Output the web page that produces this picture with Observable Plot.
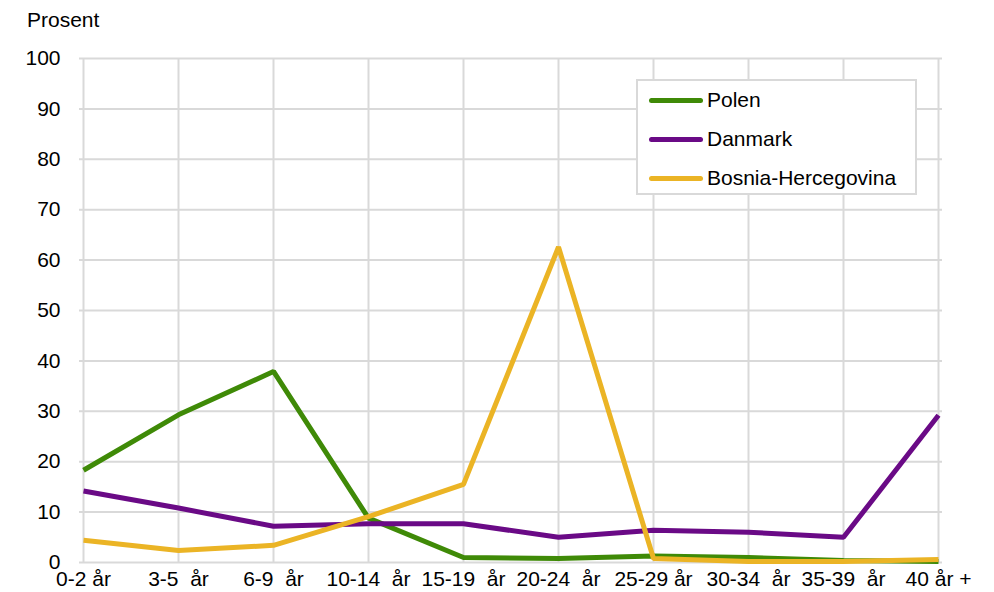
<!DOCTYPE html>
<html>
<head>
<meta charset="utf-8">
<script src="https://cdn.jsdelivr.net/npm/d3@7"></script>
<script src="https://cdn.jsdelivr.net/npm/@observablehq/plot@0.6"></script>
<style>
  body { margin: 0; background: #fff; font-family: "Liberation Sans", Arial, sans-serif; }
  #wrap { position: relative; width: 994px; height: 592px; }
  #ylabel { position: absolute; left: 27px; top: 8px; font-size: 21px; color: #000; }
  #legend { position: absolute; left: 636px; top: 79px; width: 277px; height: 112px; border: 2px solid #d9d9d9; background: #fff; }
  .row { position: absolute; left: 0; height: 24px; display: flex; align-items: center; font-size: 21px; color: #000; }
  .sw { display: inline-block; width: 54px; height: 5px; border-radius: 2.5px; margin-left: 11px; margin-right: 4px; }
  svg text { white-space: pre; }
</style>
</head>
<body>
<div id="wrap">
  <div id="ylabel">Prosent</div>
  <div id="chart"></div>
  <div id="legend"></div>
</div>
<script>
const categories = ["0-2 år", "3-5  år", "6-9  år", "10-14  år", "15-19  år", "20-24  år", "25-29 år", "30-34  år", "35-39  år", "40 år +"];
const seriesNames = ["Polen", "Danmark", "Bosnia-Hercegovina"];
const colors = ["#3f8a07", "#6a0a86", "#ebb425"];
const polen = [18.3, 29.3, 37.9, 8.8, 1.0, 0.8, 1.3, 1.0, 0.4, 0.2];
const danmark = [14.2, 10.8, 7.2, 7.7, 7.7, 5.0, 6.4, 6.0, 5.0, 29.2];
const bosnia = [4.4, 2.4, 3.4, 9.1, 15.5, 62.6, 0.8, 0.2, 0.2, 0.6];
const yTicks = [0, 10, 20, 30, 40, 50, 60, 70, 80, 90, 100];

const seriesValues = [polen, danmark, bosnia];
const data = [];
seriesNames.forEach((s, i) => categories.forEach((c, j) => data.push({series: s, cat: c, value: seriesValues[i][j]})));

const chart = Plot.plot({
  width: 994,
  height: 592,
  marginLeft: 79,
  marginRight: 52,
  marginTop: 58,
  marginBottom: 30,
  style: {fontFamily: "'Liberation Sans', Arial, sans-serif", fontSize: "21px", color: "#000", background: "#fff"},
  x: {type: "point", domain: categories, padding: 0},
  y: {domain: [0, 100]},
  color: {domain: seriesNames, range: colors},
  marks: [
    Plot.gridY(yTicks, {stroke: "#d9d9d9", strokeOpacity: 1, strokeWidth: 2}),
    Plot.gridX(categories, {stroke: "#d9d9d9", strokeOpacity: 1, strokeWidth: 2}),
    Plot.axisY(yTicks, {tickSize: 0, tickPadding: 19, label: null, fontSize: 21}),
    Plot.axisX(categories, {tickSize: 0, tickPadding: 9, label: null, fontSize: 21}),
    Plot.line(data, {x: "cat", y: "value", z: "series", stroke: "series", strokeWidth: 5, strokeLinejoin: "miter", strokeLinecap: "butt"})
  ]
});
document.getElementById("chart").appendChild(chart);

const legend = document.getElementById("legend");
const tops = [7, 46, 85];
seriesNames.forEach((s, i) => {
  const row = document.createElement("div");
  row.className = "row";
  row.style.top = tops[i] + "px";
  const sw = document.createElement("span");
  sw.className = "sw";
  sw.style.background = colors[i];
  row.appendChild(sw);
  row.appendChild(document.createTextNode(s));
  legend.appendChild(row);
});
</script>
</body>
</html>
